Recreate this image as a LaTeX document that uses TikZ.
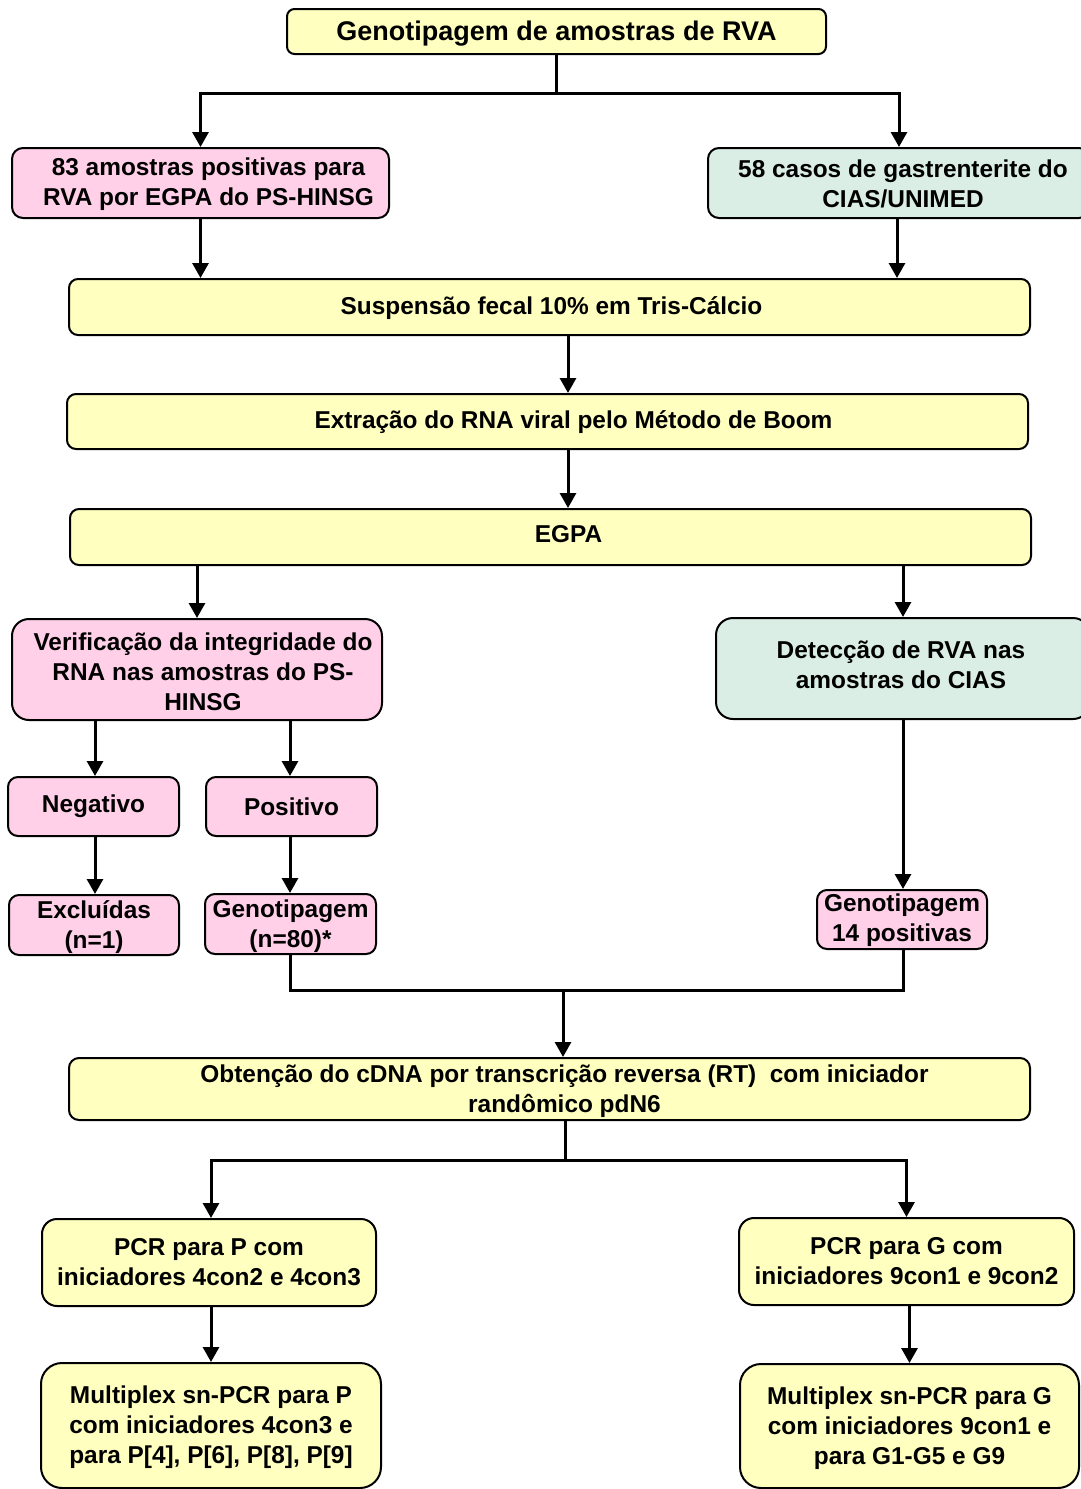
\documentclass[tikz,border=0pt]{standalone}
\usepackage{fontspec}
\setmainfont{Liberation Sans}
\usetikzlibrary{arrows.meta}
\definecolor{ylw}{RGB}{255,255,192}
\definecolor{pnk}{RGB}{255,208,232}
\definecolor{tea}{RGB}{218,238,230}
\begin{document}
\begin{tikzpicture}[x=0.5pt,y=-0.5pt,
  box/.style={draw, line width=1pt, align=center, inner sep=0pt,
    font=\fontsize{12.2}{15}\selectfont\bfseries},
  lbl/.style={align=center, inner sep=0pt, font=\fontsize{12.2}{15}\selectfont\bfseries},
  ln/.style={line width=1.5pt},
  arr/.style={line width=1.5pt, -{Triangle[width=8pt,length=7.5pt]}}]
\clip (0,0) rectangle (1081,1489);
\fill[white] (0,0) rectangle (1081,1489);
% nodes
\node[box, fill=ylw, rounded corners=3.75pt, minimum width=269.5pt, minimum height=22.5pt,
  label={[lbl,yshift=-1pt,font=\fontsize{13.5}{16}\selectfont\bfseries]center:{Genotipagem de amostras de RVA}}] (top) at (556.5,31.5) {};
\node[box, fill=pnk, rounded corners=5.5pt, minimum width=188.5pt, minimum height=35pt,
  label={[lbl,xshift=4pt,yshift=-0.5pt]center:{83 amostras positivas para\\RVA por EGPA do PS-HINSG}}] (p83) at (200.5,183) {};
\node[box, fill=tea, rounded corners=5.5pt, minimum width=191pt, minimum height=35pt,
  label={[lbl,xshift=2pt,yshift=-0.5pt]center:{58 casos de gastrenterite do\\CIAS/UNIMED}}] (c58) at (899,183) {};
\node[box, fill=ylw, rounded corners=4.5pt, minimum width=480.5pt, minimum height=28pt,
  label={[lbl,xshift=1pt,yshift=-0.5pt]center:{Suspensão fecal 10\% em Tris-Cálcio}}] (susp) at (549.5,307) {};
\node[box, fill=ylw, rounded corners=4.5pt, minimum width=480.5pt, minimum height=27.5pt,
  label={[lbl,xshift=13pt,yshift=-0.5pt]center:{Extração do RNA viral pelo Método de Boom}}] (extr) at (547.5,421.5) {};
\node[box, fill=ylw, rounded corners=4.5pt, minimum width=480.5pt, minimum height=28pt,
  label={[lbl,xshift=9pt,yshift=1.5pt]center:{EGPA}}] (egpa) at (550.5,537) {};
\node[box, fill=pnk, rounded corners=8.5pt, minimum width=185pt, minimum height=50.5pt,
  label={[lbl,xshift=3pt,yshift=-1pt]center:{Verificação da integridade do\\RNA nas amostras do PS-\\HINSG}}] (verif) at (197,669.5) {};
\node[box, fill=tea, rounded corners=8.5pt, minimum width=187pt, minimum height=50.5pt,
  label={[lbl,xshift=-1pt,yshift=2pt]center:{Detecção de RVA nas\\amostras do CIAS}}] (detec) at (903,668.5) {};
\node[box, fill=pnk, rounded corners=5pt, minimum width=85.5pt, minimum height=29.5pt] (neg) at (93.5,806.5) {Negativo};
\node[box, fill=pnk, rounded corners=5pt, minimum width=85.5pt, minimum height=29.5pt] (pos) at (291.5,806.5) {Positivo};
\node[box, fill=pnk, rounded corners=5pt, minimum width=85pt, minimum height=30pt,
  label={[lbl,yshift=-1pt]center:{Excluídas\\(n=1)}}] (excl) at (94,925) {};
\node[box, fill=pnk, rounded corners=5pt, minimum width=85.5pt, minimum height=30pt,
  label={[lbl,yshift=-1pt]center:{Genotipagem\\(n=80)*}}] (gen80) at (290.5,924) {};
\node[box, fill=pnk, rounded corners=5pt, minimum width=85pt, minimum height=29.5pt,
  label={[lbl,yshift=-0.5pt]center:{Genotipagem\\14 positivas}}] (gen14) at (902,919.5) {};
\node[box, fill=ylw, rounded corners=5pt, minimum width=480.5pt, minimum height=31pt,
  label={[lbl,xshift=7.5pt,yshift=-1pt]center:{Obtenção do cDNA por transcrição reversa (RT)\ \ com iniciador\\randômico pdN6}}] (obt) at (549.5,1089) {};
\node[box, fill=ylw, rounded corners=7.5pt, minimum width=167pt, minimum height=43.5pt] (pcrP) at (209,1262.5) {PCR para P com\\iniciadores 4con2 e 4con3};
\node[box, fill=ylw, rounded corners=7.5pt, minimum width=167.5pt, minimum height=43.5pt] (pcrG) at (906.5,1261.5) {PCR para G com\\iniciadores 9con1 e 9con2};
\node[box, fill=ylw, rounded corners=10.5pt, minimum width=170pt, minimum height=62.5pt,
  label={[lbl,yshift=-1pt]center:{Multiplex sn-PCR para P\\com iniciadores 4con3 e\\para P[4], P[6], P[8], P[9]}}] (mulP) at (211,1425.5) {};
\node[box, fill=ylw, rounded corners=10.5pt, minimum width=169.5pt, minimum height=62pt,
  label={[lbl,yshift=-1pt]center:{Multiplex sn-PCR para G\\com iniciadores 9con1 e\\para G1-G5 e G9}}] (mulG) at (909.5,1426) {};
% junction coordinates
\coordinate (bus1) at (555,93);
\coordinate (bus2) at (563,990);
\coordinate (bus3) at (565,1160);
% connectors
\draw[ln] (top.south) |- (bus1);
\draw[arr] (bus1) -| (p83.north);
\draw[arr] (bus1) -| (c58.north);
\draw[arr] (p83.south) -- (p83.south |- susp.north);
\draw[arr] (c58.south -| 897,0) -- (susp.north -| 897,0);
\draw[arr] (susp.south -| 568,0) -- (extr.north -| 568,0);
\draw[arr] (extr.south -| 568,0) -- (egpa.north -| 568,0);
\draw[arr] (egpa.south -| verif.north) -- (verif.north);
\draw[arr] (egpa.south -| detec.north) -- (detec.north);
\draw[arr] (verif.south -| 95,0) -- (neg.north -| 95,0);
\draw[arr] (verif.south -| 290,0) -- (pos.north -| 290,0);
\draw[arr] (neg.south -| 95,0) -- (excl.north -| 95,0);
\draw[arr] (pos.south -| 290,0) -- (gen80.north -| 290,0);
\draw[arr] (detec.south) -- (detec.south |- gen14.north);
\draw[ln] (gen80.south -| 290,0) |- (bus2 -| detec.south) -- (gen14.south -| detec.south);
\draw[arr] (bus2) -- (bus2 |- obt.north);
\draw[ln] (obt.south -| bus3) -- (bus3);
\draw[arr] (bus3) -| (pcrP.north -| 211,0);
\draw[arr] (bus3) -| (pcrG.north);
\draw[arr] (pcrP.south -| 211,0) -- (mulP.north -| 211,0);
\draw[arr] (mulG.north |- pcrG.south) -- (mulG.north);
\end{tikzpicture}
\end{document}
